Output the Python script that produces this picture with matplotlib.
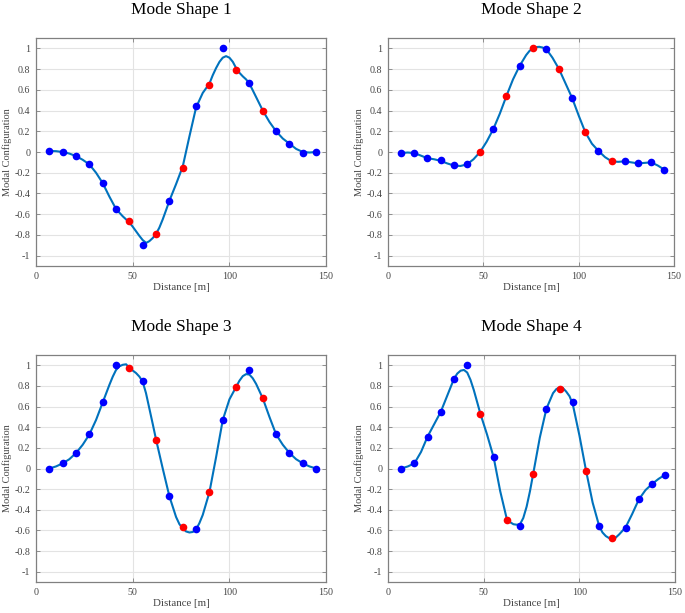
import matplotlib
matplotlib.use("Agg")
import matplotlib.pyplot as plt
import numpy as np

plt.rcParams['font.family'] = ['Liberation Serif', 'DejaVu Serif']
plt.rcParams['axes.unicode_minus'] = False

# sensor positions (m)
sensor_x = [6.9, 13.8, 20.7, 27.6, 34.5, 41.4, 48.3, 55.2, 62.1, 69.0, 75.9,
            82.8, 89.7, 96.6, 103.5, 110.4, 117.3, 124.2, 131.1, 138.0, 144.9]
# which sensors are red (1) or blue (0)
sensor_red = [0, 0, 0, 0, 0, 0, 1, 0, 1, 0, 1, 0, 1, 0, 1, 0, 1, 0, 0, 0, 0]

mode1_pts = [0.01, 0.0, -0.04, -0.12, -0.30, -0.55, -0.67, -0.90, -0.79, -0.47, -0.15,
             0.44, 0.65, 1.0, 0.79, 0.67, 0.40, 0.20, 0.08, -0.01, 0.0]
mode2_pts = [-0.01, -0.01, -0.06, -0.08, -0.13, -0.12, 0.0, 0.22, 0.54, 0.83, 1.0,
             0.99, 0.80, 0.52, 0.19, 0.01, -0.09, -0.09, -0.11, -0.10, -0.17]
mode3_pts = [0.0, 0.05, 0.15, 0.33, 0.64, 1.0, 0.97, 0.85, 0.28, -0.27, -0.57,
             -0.59, -0.23, 0.47, 0.79, 0.95, 0.68, 0.33, 0.15, 0.05, 0.0]
mode4_pts = [0.0, 0.05, 0.31, 0.55, 0.87, 1.0, 0.53, 0.11, -0.50, -0.56, -0.05,
             0.58, 0.77, 0.64, -0.02, -0.56, -0.67, -0.58, -0.30, -0.15, -0.06]

# fitted curves
mode1_curve_x = [6.9, 10.35, 13.8, 17.25, 20.7, 24.15, 27.6, 31.05, 34.5, 37.95, 41.4,
                 44.85, 48.3, 50.0, 51.75, 53.5, 55.2, 57.0, 58.65, 60.4, 62.1, 63.8,
                 65.55, 67.3, 69.0, 72.45, 75.9, 79.35, 82.8, 86.25, 89.7, 91.4, 93.15,
                 94.9, 96.6, 98.3, 100.05, 101.8, 103.5, 105.2, 106.95, 108.7, 110.4,
                 113.85, 117.3, 120.75, 124.2, 127.65, 131.1, 134.55, 138.0, 141.45, 144.9]
mode1_curve_y = [0.01, 0.008, 0.0, -0.015, -0.04, -0.075, -0.12, -0.20, -0.30, -0.43, -0.55,
                 -0.62, -0.68, -0.72, -0.765, -0.81, -0.85, -0.877, -0.86, -0.83, -0.79, -0.73,
                 -0.65, -0.56, -0.47, -0.31, -0.14, 0.15, 0.43, 0.57, 0.66, 0.74, 0.81,
                 0.87, 0.91, 0.925, 0.91, 0.87, 0.81, 0.765, 0.73, 0.70, 0.66,
                 0.53, 0.40, 0.29, 0.20, 0.13, 0.08, 0.03, 0.0, -0.005, 0.0]
mode2_curve_x = [6.9, 10.35, 13.8, 17.25, 20.7, 24.15, 27.6, 31.05, 34.5, 37.95, 41.4,
                 44.85, 48.3, 51.75, 55.2, 58.65, 62.1, 65.55, 69.0, 72.45, 74.2, 75.9,
                 77.6, 79.35, 81.1, 82.8, 84.5, 86.25, 89.7, 93.15, 96.6, 100.05, 103.5,
                 106.95, 110.4, 113.85, 117.3, 120.75, 124.2, 127.65, 131.1, 134.55,
                 138.0, 141.45, 144.9]
mode2_curve_y = [-0.01, -0.005, -0.01, -0.035, -0.06, -0.07, -0.085, -0.11, -0.13, -0.135, -0.12,
                 -0.07, 0.0, 0.10, 0.22, 0.37, 0.54, 0.70, 0.83, 0.935, 0.975, 1.0,
                 1.012, 1.015, 1.008, 0.99, 0.955, 0.91, 0.80, 0.66, 0.52, 0.35, 0.19,
                 0.08, 0.01, -0.05, -0.09, -0.095, -0.09, -0.10, -0.11, -0.105,
                 -0.10, -0.13, -0.17]
mode3_curve_x = [6.9, 10.35, 13.8, 17.25, 20.7, 24.15, 27.6, 31.05, 34.5, 37.95, 39.7, 41.4,
                 43.1, 44.85, 46.6, 48.3, 50.0, 51.75, 53.5, 55.2, 56.9, 58.65, 60.4, 62.1,
                 65.55, 69.0, 72.45, 74.2, 75.9, 77.6, 79.35, 81.1, 82.8, 84.5, 86.25, 89.7,
                 93.15, 96.6, 100.05, 103.5, 105.2, 106.95, 108.7, 110.4, 112.1, 113.85,
                 117.3, 120.75, 124.2, 127.65, 131.1, 134.55, 138.0, 141.45, 144.9]
mode3_curve_y = [0.0, 0.02, 0.05, 0.09, 0.15, 0.23, 0.33, 0.47, 0.64, 0.81, 0.89, 0.955,
                 0.99, 1.005, 1.01, 0.975, 0.95, 0.925, 0.89, 0.84, 0.73, 0.58, 0.43, 0.28,
                 0.0, -0.27, -0.47, -0.54, -0.58, -0.61, -0.62, -0.615, -0.59, -0.53, -0.45, -0.23,
                 0.11, 0.47, 0.67, 0.79, 0.85, 0.895, 0.915, 0.91, 0.875, 0.82,
                 0.68, 0.50, 0.33, 0.23, 0.15, 0.09, 0.05, 0.02, 0.0]
mode4_curve_x = [6.9, 10.35, 13.8, 17.25, 20.7, 24.15, 27.6, 31.05, 34.5, 36.2, 37.95, 39.7,
                 41.4, 43.1, 44.85, 48.3, 51.75, 55.2, 58.65, 62.1, 63.8, 65.55, 67.3, 69.0,
                 70.7, 72.45, 74.2, 75.9, 79.35, 82.8, 86.25, 88.0, 89.7, 91.4, 93.15, 94.9,
                 96.6, 100.05, 103.5, 106.95, 110.4, 112.1, 113.85, 115.6, 117.3, 119.0,
                 120.75, 124.2, 127.65, 131.1, 134.55, 138.0, 141.45, 144.9]
mode4_curve_y = [0.0, 0.02, 0.05, 0.16, 0.31, 0.43, 0.55, 0.71, 0.87, 0.92, 0.948, 0.955,
                 0.93, 0.86, 0.76, 0.53, 0.33, 0.11, -0.22, -0.49, -0.52, -0.54, -0.545, -0.54,
                 -0.48, -0.37, -0.22, -0.05, 0.30, 0.58, 0.73, 0.77, 0.785, 0.78, 0.745, 0.70,
                 0.62, 0.32, -0.02, -0.33, -0.56, -0.62, -0.655, -0.675, -0.68, -0.67,
                 -0.64, -0.57, -0.44, -0.30, -0.21, -0.15, -0.10, -0.06]

titles = ["Mode Shape 1", "Mode Shape 2", "Mode Shape 3", "Mode Shape 4"]
points = [mode1_pts, mode2_pts, mode3_pts, mode4_pts]
curves = [(mode1_curve_x, mode1_curve_y), (mode2_curve_x, mode2_curve_y),
          (mode3_curve_x, mode3_curve_y), (mode4_curve_x, mode4_curve_y)]

fig = plt.figure(figsize=(6.85, 6.13), dpi=100)
W, H = 685.0, 613.0
boxes = [(36, 38, 326, 266), (388, 38, 674, 266), (36, 355, 326, 582), (388, 355, 675, 582)]

xs = np.array(sensor_x)
red = np.array(sensor_red, dtype=bool)
for i, (l, t, r, b) in enumerate(boxes):
    ax = fig.add_axes([l / W, 1 - b / H, (r - l) / W, (b - t) / H])
    cx, cy = curves[i]
    ax.plot(cx, cy, color='#0072BD', lw=1.5, zorder=2, solid_joinstyle='round')
    ys = np.array(points[i])
    ax.plot(xs[~red], ys[~red], 'o', color='#0000FF', ms=5.5, mec='none', zorder=3)
    ax.plot(xs[red], ys[red], 'o', color='#FF0000', ms=5.5, mec='none', zorder=3)
    ax.set_xlim(0, 150)
    ax.set_ylim(-1.1, 1.1)
    ax.set_xticks([0, 50, 100, 150])
    yt = [-1, -0.8, -0.6, -0.4, -0.2, 0, 0.2, 0.4, 0.6, 0.8, 1]
    ax.set_yticks(yt)
    ax.set_yticklabels(['-1', '-0.8', '-0.6', '-0.4', '-0.2', '0', '0.2', '0.4', '0.6', '0.8', '1'])
    ax.grid(True, color='#e3e3e3', lw=0.8)
    ax.set_axisbelow(True)
    for s in ax.spines.values():
        s.set_color('#808080')
        s.set_linewidth(0.9)
    ax.tick_params(direction='in', length=3, width=0.6, color='#808080',
                   labelsize=7.2, labelcolor='#444444', top=True, right=True, pad=4)
    ax.set_xlabel('Distance [m]', fontsize=7.8, color='#444444', labelpad=2)
    ax.set_ylabel('Modal Configuration', fontsize=7.5, color='#444444', labelpad=2)
    ax.set_title(titles[i], fontsize=12.5, pad=17)

fig.savefig('out.png', dpi=100)
